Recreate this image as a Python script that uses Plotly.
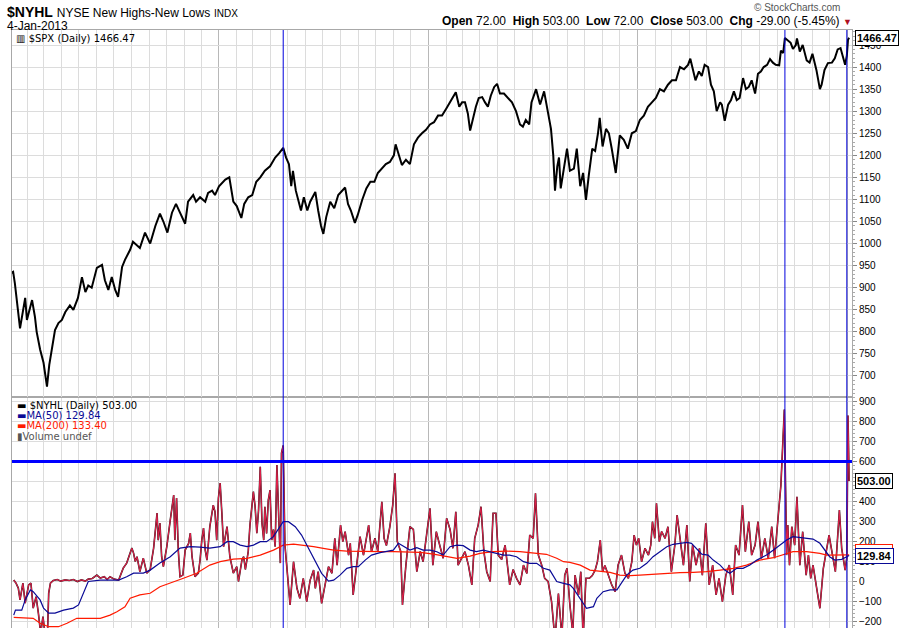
import plotly.graph_objects as go

# S&P 500 close, upper panel
spx_dates = [
    "2009-01-02", "2009-01-07", "2009-01-10", "2009-01-16", "2009-01-19", "2009-01-28", "2009-01-31",
    "2009-02-09", "2009-02-14", "2009-02-17", "2009-02-23", "2009-03-01", "2009-03-07", "2009-03-11",
    "2009-03-16", "2009-03-21", "2009-03-27", "2009-04-02", "2009-04-08", "2009-04-16", "2009-04-22",
    "2009-04-30", "2009-05-07", "2009-05-13", "2009-05-18", "2009-05-24", "2009-06-02", "2009-06-11",
    "2009-06-16", "2009-06-22", "2009-06-28", "2009-07-04", "2009-07-09", "2009-07-16", "2009-07-21",
    "2009-07-30", "2009-08-04", "2009-08-16", "2009-08-25", "2009-09-03", "2009-09-12", "2009-09-20",
    "2009-09-26", "2009-10-03", "2009-10-11", "2009-10-18", "2009-10-25", "2009-11-03", "2009-11-08",
    "2009-11-17", "2009-11-22", "2009-11-29", "2009-12-08", "2009-12-13", "2009-12-20", "2009-12-25",
    "2010-01-01", "2010-01-12", "2010-01-19", "2010-01-26", "2010-02-01", "2010-02-09", "2010-02-14",
    "2010-02-21", "2010-02-28", "2010-03-07", "2010-03-14", "2010-03-22", "2010-03-31", "2010-04-09",
    "2010-04-16", "2010-04-23", "2010-04-28", "2010-05-03", "2010-05-07", "2010-05-10", "2010-05-15",
    "2010-05-21", "2010-05-24", "2010-05-29", "2010-06-04", "2010-06-09", "2010-06-18", "2010-06-23",
    "2010-06-28", "2010-07-02", "2010-07-07", "2010-07-14", "2010-07-21", "2010-07-28", "2010-08-04",
    "2010-08-09", "2010-08-14", "2010-08-19", "2010-08-26", "2010-08-31", "2010-09-08", "2010-09-15",
    "2010-09-22", "2010-09-29", "2010-10-05", "2010-10-12", "2010-10-19", "2010-10-26", "2010-11-02",
    "2010-11-05", "2010-11-11", "2010-11-16", "2010-11-23", "2010-11-30", "2010-12-07", "2010-12-14",
    "2010-12-21", "2010-12-28", "2011-01-04", "2011-01-11", "2011-01-18", "2011-01-25", "2011-02-01",
    "2011-02-08", "2011-02-13", "2011-02-18", "2011-02-24", "2011-03-01", "2011-03-06", "2011-03-11",
    "2011-03-15", "2011-03-20", "2011-03-25", "2011-03-30", "2011-04-05", "2011-04-10", "2011-04-15",
    "2011-04-20", "2011-04-26", "2011-05-01", "2011-05-06", "2011-05-13", "2011-05-20", "2011-05-27",
    "2011-06-03", "2011-06-10", "2011-06-15", "2011-06-20", "2011-06-26", "2011-06-30", "2011-07-08",
    "2011-07-15", "2011-07-22", "2011-07-29", "2011-08-03", "2011-08-07", "2011-08-10", "2011-08-14",
    "2011-08-17", "2011-08-20", "2011-08-26", "2011-08-31", "2011-09-05", "2011-09-12", "2011-09-17",
    "2011-09-23", "2011-09-28", "2011-10-03", "2011-10-08", "2011-10-14", "2011-10-19", "2011-10-24",
    "2011-10-27", "2011-11-01", "2011-11-07", "2011-11-12", "2011-11-17", "2011-11-24", "2011-12-01",
    "2011-12-08", "2011-12-15", "2011-12-22", "2011-12-29", "2012-01-05", "2012-01-12", "2012-01-19",
    "2012-01-26", "2012-02-02", "2012-02-09", "2012-02-16", "2012-02-23", "2012-03-01", "2012-03-08",
    "2012-03-15", "2012-03-22", "2012-03-29", "2012-04-02", "2012-04-07", "2012-04-11", "2012-04-17",
    "2012-04-22", "2012-04-27", "2012-05-03", "2012-05-08", "2012-05-13", "2012-05-18", "2012-05-24",
    "2012-05-27", "2012-06-01", "2012-06-07", "2012-06-12", "2012-06-17", "2012-06-22", "2012-06-27",
    "2012-07-03", "2012-07-08", "2012-07-13", "2012-07-18", "2012-07-24", "2012-07-29", "2012-08-03",
    "2012-08-08", "2012-08-14", "2012-08-19", "2012-08-24", "2012-08-29", "2012-09-04", "2012-09-07",
    "2012-09-11", "2012-09-14", "2012-09-19", "2012-09-24", "2012-09-28", "2012-10-03", "2012-10-05",
    "2012-10-10", "2012-10-15", "2012-10-22", "2012-10-27", "2012-11-01", "2012-11-08", "2012-11-14",
    "2012-11-17", "2012-11-22", "2012-11-28", "2012-12-05", "2012-12-10", "2012-12-15", "2012-12-20",
    "2012-12-24", "2012-12-28", "2012-12-31", "2013-01-02", "2013-01-04",
]
spx_close = [
    932, 936, 910, 850, 808, 877, 827,
    872, 834, 800, 760, 730, 676, 725,
    765, 804, 820, 827, 845, 860, 850,
    877, 924, 890, 905, 900, 945, 952,
    917, 895, 924, 895, 879, 947, 963,
    986, 1004, 990, 1025, 1000, 1040, 1068,
    1050, 1025, 1070, 1090, 1070, 1045, 1095,
    1110, 1095, 1105, 1095, 1115, 1120, 1110,
    1130, 1145, 1150, 1095, 1085, 1058, 1090,
    1105, 1110, 1140, 1150, 1165, 1175, 1195,
    1205, 1217, 1195, 1180, 1130, 1165, 1120,
    1090, 1075, 1105, 1075, 1095, 1117, 1075,
    1040, 1022, 1060, 1095, 1080, 1110, 1120,
    1127, 1090, 1075, 1047, 1065, 1100, 1125,
    1140, 1140, 1160, 1170, 1180, 1185, 1200,
    1225, 1200, 1178, 1190, 1180, 1225, 1240,
    1250, 1258, 1270, 1275, 1290, 1290, 1305,
    1320, 1330, 1343, 1310, 1320, 1320, 1295,
    1256, 1285, 1310, 1330, 1332, 1320, 1310,
    1335, 1355, 1362, 1340, 1340, 1330, 1320,
    1300, 1270, 1265, 1280, 1270, 1320, 1350,
    1315, 1345, 1290, 1260, 1200, 1120, 1175,
    1195, 1125, 1170, 1215, 1165, 1170, 1215,
    1130, 1160, 1099, 1155, 1215, 1210, 1250,
    1285, 1220, 1260, 1250, 1215, 1160, 1245,
    1235, 1215, 1250, 1255, 1280, 1290, 1310,
    1320, 1330, 1350, 1345, 1360, 1370, 1370,
    1400, 1395, 1405, 1419, 1395, 1370, 1390,
    1380, 1405, 1400, 1360, 1345, 1300, 1320,
    1315, 1278, 1315, 1325, 1345, 1325, 1330,
    1375, 1350, 1355, 1370, 1340, 1385, 1390,
    1400, 1405, 1418, 1410, 1405, 1404, 1437,
    1432, 1466, 1460, 1455, 1441, 1450, 1465,
    1435, 1450, 1415, 1410, 1430, 1393, 1350,
    1360, 1393, 1409, 1410, 1420, 1440, 1443,
    1425, 1405, 1426, 1462, 1466.47,
]

# NYSE new highs minus new lows, lower panel
nyhl_dates = [
    "2009-01-08", "2009-01-12", "2009-01-16", "2009-01-19", "2009-01-24", "2009-01-28", "2009-02-03",
    "2009-02-07", "2009-02-11", "2009-02-16", "2009-02-20", "2009-02-24", "2009-02-28", "2009-03-04",
    "2009-03-08", "2009-03-10", "2009-03-13", "2009-03-18", "2009-03-25", "2009-03-31", "2009-04-08",
    "2009-04-15", "2009-04-22", "2009-04-29", "2009-05-06", "2009-05-13", "2009-05-18", "2009-05-25",
    "2009-06-02", "2009-06-08", "2009-06-15", "2009-06-20", "2009-06-25", "2009-07-02", "2009-07-10",
    "2009-07-18", "2009-07-24", "2009-08-02", "2009-08-05", "2009-08-08", "2009-08-11", "2009-08-16",
    "2009-08-22", "2009-08-28", "2009-09-03", "2009-09-09", "2009-09-15", "2009-09-17", "2009-09-20",
    "2009-09-23", "2009-09-26", "2009-10-02", "2009-10-08", "2009-10-11", "2009-10-14", "2009-10-16",
    "2009-10-19", "2009-10-22", "2009-10-25", "2009-10-30", "2009-11-03", "2009-11-09", "2009-11-12",
    "2009-11-15", "2009-11-20", "2009-11-26", "2009-11-29", "2009-12-02", "2009-12-05", "2009-12-08",
    "2009-12-11", "2009-12-16", "2009-12-22", "2009-12-25", "2009-12-28", "2009-12-31", "2010-01-03",
    "2010-01-06", "2010-01-09", "2010-01-15", "2010-01-17", "2010-01-20", "2010-01-26", "2010-02-01",
    "2010-02-04", "2010-02-10", "2010-02-13", "2010-02-16", "2010-02-21", "2010-02-24", "2010-03-02",
    "2010-03-05", "2010-03-08", "2010-03-11", "2010-03-14", "2010-03-17", "2010-03-20", "2010-03-22",
    "2010-03-25", "2010-03-28", "2010-03-31", "2010-04-03", "2010-04-06", "2010-04-09", "2010-04-12",
    "2010-04-15", "2010-04-18", "2010-04-20", "2010-04-23", "2010-04-26", "2010-04-29", "2010-05-05",
    "2010-05-11", "2010-05-17", "2010-05-22", "2010-05-28", "2010-06-03", "2010-06-09", "2010-06-15",
    "2010-06-18", "2010-06-23", "2010-06-29", "2010-07-05", "2010-07-11", "2010-07-17", "2010-07-22",
    "2010-07-26", "2010-08-01", "2010-08-05", "2010-08-09", "2010-08-15", "2010-08-18", "2010-08-23",
    "2010-08-29", "2010-09-04", "2010-09-10", "2010-09-19", "2010-09-24", "2010-09-30", "2010-10-05",
    "2010-10-12", "2010-10-16", "2010-10-20", "2010-10-26", "2010-10-31", "2010-11-04", "2010-11-08",
    "2010-11-14", "2010-11-17", "2010-11-23", "2010-11-30", "2010-12-06", "2010-12-12", "2010-12-18",
    "2010-12-23", "2010-12-29", "2011-01-04", "2011-01-09", "2011-01-15", "2011-01-22", "2011-01-27",
    "2011-02-02", "2011-02-08", "2011-02-13", "2011-02-18", "2011-02-22", "2011-02-28", "2011-03-06",
    "2011-03-12", "2011-03-18", "2011-03-23", "2011-03-29", "2011-04-03", "2011-04-08", "2011-04-13",
    "2011-04-19", "2011-04-24", "2011-04-29", "2011-05-03", "2011-05-09", "2011-05-15", "2011-05-23",
    "2011-05-29", "2011-06-04", "2011-06-10", "2011-06-16", "2011-06-22", "2011-06-27", "2011-07-03",
    "2011-07-07", "2011-07-12", "2011-07-18", "2011-07-23", "2011-07-29", "2011-08-04", "2011-08-10",
    "2011-08-16", "2011-08-22", "2011-08-27", "2011-08-31", "2011-09-05", "2011-09-10", "2011-09-14",
    "2011-09-20", "2011-09-24", "2011-09-28", "2011-10-03", "2011-10-09", "2011-10-14", "2011-10-19",
    "2011-10-23", "2011-10-28", "2011-11-01", "2011-11-05", "2011-11-11", "2011-11-17", "2011-11-23",
    "2011-11-28", "2011-12-04", "2011-12-10", "2011-12-16", "2011-12-22", "2011-12-26", "2011-12-30",
    "2012-01-03", "2012-01-08", "2012-01-14", "2012-01-20", "2012-01-24", "2012-01-27", "2012-01-31",
    "2012-02-03", "2012-02-08", "2012-02-12", "2012-02-18", "2012-02-23", "2012-02-29", "2012-03-06",
    "2012-03-10", "2012-03-15", "2012-03-21", "2012-03-27", "2012-04-01", "2012-04-06", "2012-04-12",
    "2012-04-18", "2012-04-23", "2012-04-29", "2012-05-05", "2012-05-11", "2012-05-17", "2012-05-22",
    "2012-05-28", "2012-06-03", "2012-06-09", "2012-06-15", "2012-06-20", "2012-06-26", "2012-07-02",
    "2012-07-07", "2012-07-13", "2012-07-18", "2012-07-24", "2012-07-29", "2012-08-04", "2012-08-10",
    "2012-08-16", "2012-08-22", "2012-08-27", "2012-09-02", "2012-09-07", "2012-09-13", "2012-09-17",
    "2012-09-19", "2012-09-22", "2012-09-26", "2012-10-01", "2012-10-05", "2012-10-10", "2012-10-15",
    "2012-10-21", "2012-10-25", "2012-10-29", "2012-11-02", "2012-11-08", "2012-11-14", "2012-11-20",
    "2012-11-26", "2012-11-30", "2012-12-06", "2012-12-11", "2012-12-18", "2012-12-22", "2012-12-28",
    "2012-12-31", "2013-01-02", "2013-01-03", "2013-01-04",
]
nyhl_values = [
    7, -8, -33, -92, -8, -108, -17,
    -8, -133, -76, -158, -260, -176, -270,
    -250, -58, -8, 5, 10, 2, 8,
    5, 10, 0, 8, 2, 12, 15,
    32, 17, 24, 10, 24, 12, 7,
    67, 92, 167, 142, 100, 124, 49,
    117, 42, 60, 167, 342, 207, 292,
    124, 74, 174, 307, 374, 432, 207,
    417, 157, 24, 32, 157, 190, 242,
    124, 24, 42, 107, 207, 267, 157,
    107, 274, 382, 349, 207, 417, 492,
    342, 174, 274, 207, 124, 42, 74,
    0, 107, 124, 60, 149, 282, 449,
    374, 242, 357, 574, 292, 207, 374,
    240, 407, 457, 207, 260, 174, 582,
    307, 92, 642, 680, 182, 66, -117,
    99, -34, -84, 16, -101, 7, 57,
    -34, 49, -109, -17, 74, 41, 216,
    82, 282, 199, 249, 132, 191, -67,
    82, 224, 132, 282, 149, 216, 150,
    399, 216, 180, 274, 382, 541, 199,
    150, -117, 82, 274, 260, 49, 150,
    99, 232, 366, 82, 249, 170, 116,
    316, 260, 166, 349, 82, 120, 149,
    82, -17, 216, 282, 374, 149, 49,
    0, 341, 341, 132, 110, 182, -17,
    60, 16, -17, 82, 40, 232, 216,
    441, 132, 80, 16, 0, -101, -290,
    -60, -280, 32, 66, -117, -260, 32,
    -67, 49, -280, 16, 16, 30, 57,
    99, 207, 49, 80, 32, -17, -51,
    82, 132, 41, 16, 99, 232, 182,
    216, 99, 166, 132, 182, 299, 216,
    391, 199, 250, 216, 274, 49, 182,
    332, 216, 82, 282, 0, 182, 82,
    166, 32, 291, -17, 82, -67, 16,
    -101, 32, 82, -67, 182, 132, 382,
    149, 299, 132, 182, 299, 116, 216,
    116, 274, 116, 316, 482, 860, 132,
    282, 82, 274, 182, 424, 82, 249,
    32, 132, 16, 82, -17, -134, 66,
    166, 232, 132, 49, 357, 166, 57,
    120, 830, 532, 503,
]

# 50-day moving average of $NYHL
ma50_dates = [
    "2009-01-08", "2009-01-11", "2009-01-22", "2009-01-28", "2009-02-06", "2009-02-11", "2009-02-23",
    "2009-03-01", "2009-03-10", "2009-03-21", "2009-04-05", "2009-04-22", "2009-05-01", "2009-05-07",
    "2009-05-13", "2009-05-18", "2009-06-08", "2009-06-25", "2009-07-10", "2009-07-24", "2009-08-05",
    "2009-08-22", "2009-09-03", "2009-09-20", "2009-10-08", "2009-10-25", "2009-11-12", "2009-11-29",
    "2009-12-16", "2010-01-03", "2010-01-15", "2010-01-26", "2010-02-07", "2010-02-19", "2010-03-02",
    "2010-03-14", "2010-03-25", "2010-04-06", "2010-04-18", "2010-04-23", "2010-05-02", "2010-05-14",
    "2010-05-25", "2010-06-06", "2010-06-18", "2010-06-29", "2010-07-11", "2010-07-20", "2010-07-31",
    "2010-08-12", "2010-08-23", "2010-09-01", "2010-09-13", "2010-09-24", "2010-10-09", "2010-10-20",
    "2010-11-01", "2010-11-10", "2010-11-19", "2010-11-30", "2010-12-12", "2010-12-23", "2011-01-04",
    "2011-01-16", "2011-01-27", "2011-02-08", "2011-02-20", "2011-03-03", "2011-03-15", "2011-03-26",
    "2011-04-07", "2011-04-19", "2011-04-30", "2011-05-12", "2011-05-23", "2011-06-04", "2011-06-16",
    "2011-06-27", "2011-07-09", "2011-07-21", "2011-08-01", "2011-08-13", "2011-08-25", "2011-09-05",
    "2011-09-11", "2011-09-23", "2011-10-04", "2011-10-16", "2011-10-22", "2011-11-02", "2011-11-14",
    "2011-11-26", "2011-12-04", "2011-12-13", "2011-12-24", "2012-01-05", "2012-01-17", "2012-01-28",
    "2012-02-09", "2012-02-21", "2012-03-03", "2012-03-15", "2012-03-27", "2012-04-04", "2012-04-13",
    "2012-04-22", "2012-05-03", "2012-05-12", "2012-05-24", "2012-06-01", "2012-06-10", "2012-06-22",
    "2012-07-03", "2012-07-15", "2012-07-27", "2012-08-13", "2012-08-25", "2012-09-05", "2012-09-17",
    "2012-09-28", "2012-10-10", "2012-10-22", "2012-11-02", "2012-11-14", "2012-11-23", "2012-12-01",
    "2012-12-10", "2012-12-22", "2013-01-04",
]
ma50_values = [
    -168, -143, -143, -92, -42, -51, -92,
    -133, -158, -158, -143, -133, -117, -76,
    -42, 0, 7, 7, 7, 24, 42,
    42, 57, 92, 124, 167, 174, 172,
    167, 174, 199, 199, 182, 174, 182,
    199, 199, 224, 274, 299, 299, 274,
    232, 166, 107, 41, 2, 7, 32,
    66, 74, 74, 107, 132, 144, 149,
    157, 191, 174, 157, 169, 157, 157,
    149, 132, 174, 182, 179, 157, 149,
    157, 149, 141, 132, 132, 124, 99,
    91, 91, 66, 57, 0, -9, -17,
    -34, -84, -134, -126, -84, -51, -42,
    -42, -9, 32, 57, 66, 91, 124,
    149, 174, 186, 191, 196, 191, 166,
    137, 132, 107, 82, 57, 41, 66,
    66, 82, 107, 132, 157, 182, 207,
    224, 219, 216, 212, 191, 157, 124,
    107, 111, 129.84,
]

# 200-day moving average of $NYHL
ma200_dates = [
    "2009-01-08", "2009-02-11", "2009-02-23", "2009-03-10", "2009-03-27", "2009-04-11", "2009-04-28",
    "2009-05-16", "2009-06-08", "2009-06-25", "2009-07-07", "2009-07-21", "2009-07-30", "2009-08-16",
    "2009-09-03", "2009-09-20", "2009-10-08", "2009-10-31", "2009-11-23", "2009-12-16", "2010-01-03",
    "2010-01-26", "2010-02-19", "2010-03-14", "2010-04-06", "2010-04-23", "2010-05-11", "2010-05-28",
    "2010-06-15", "2010-07-02", "2010-07-20", "2010-08-12", "2010-09-10", "2010-10-09", "2010-11-01",
    "2010-11-24", "2010-12-18", "2011-01-10", "2011-02-02", "2011-02-20", "2011-03-15", "2011-04-01",
    "2011-04-24", "2011-05-18", "2011-06-10", "2011-07-03", "2011-07-26", "2011-08-13", "2011-08-25",
    "2011-09-05", "2011-09-23", "2011-10-10", "2011-10-28", "2011-11-14", "2011-12-01", "2011-12-19",
    "2012-01-05", "2012-01-28", "2012-02-21", "2012-03-15", "2012-04-07", "2012-04-30", "2012-05-24",
    "2012-06-16", "2012-07-09", "2012-08-01", "2012-08-25", "2012-09-11", "2012-09-28", "2012-10-22",
    "2012-11-14", "2012-11-26", "2012-12-19", "2013-01-04",
]
ma200_values = [
    -179, -184, -209, -226, -226, -209, -184,
    -184, -184, -168, -151, -126, -84, -67,
    -59, -26, -9, 16, 41, 82, 99,
    112, 116, 132, 157, 182, 187, 182,
    174, 166, 157, 152, 149, 149, 149,
    149, 146, 137, 124, 116, 127, 141,
    149, 152, 149, 141, 136, 116, 99,
    96, 82, 57, 52, 46, 32, 29,
    32, 37, 41, 44, 46, 49, 57,
    66, 82, 107, 119, 136, 149, 149,
    141, 132, 132, 133.40,
]

# lines drawn by hand on the chart
marker_dates = ["2010-04-23", "2012-09-14", "2012-12-31"]
alert_level = 600

x_range = ["2009-01-05", "2013-01-09"]
spx_range = [652.4, 1484]
nyhl_range = [-232.5, 922.5]

fig = go.Figure()

fig.add_trace(go.Scatter(x=spx_dates, y=spx_close, xaxis="x2", yaxis="y2",
                         mode="lines", line=dict(color="black", width=2)))
fig.add_trace(go.Scatter(x=nyhl_dates, y=nyhl_values, mode="lines",
                         line=dict(color="#1a1a1a", width=1.6)))
fig.add_trace(go.Scatter(x=nyhl_dates, y=nyhl_values, mode="lines",
                         line=dict(color="#dc1f48", width=1.1)))
fig.add_trace(go.Scatter(x=ma200_dates, y=ma200_values, mode="lines",
                         line=dict(color="#ff1a00", width=1.2)))
fig.add_trace(go.Scatter(x=ma50_dates, y=ma50_values, mode="lines",
                         line=dict(color="#0a0a96", width=1.2)))

grid_light = "#dcdcdc"
frame = "#a8a8a8"
tick_font = dict(family="Liberation Sans, Arial", size=10, color="black")

x_common = dict(type="date", range=x_range, tick0="2009-01-01", dtick="M12", automargin=False,
                showticklabels=False, showgrid=True, gridcolor="#b8b8b8",
                minor=dict(dtick="M1", tick0="2009-01-01", showgrid=True, gridcolor=grid_light),
                showline=True, mirror=True, linecolor=frame, zeroline=False, ticks="")

fig.update_layout(
    width=901, height=628,
    margin=dict(l=12, r=49, t=30, b=0, autoexpand=False),
    paper_bgcolor="white", plot_bgcolor="white",
    showlegend=False, hovermode=False,
    xaxis=dict(anchor="y", domain=[0, 1], **x_common),
    xaxis2=dict(anchor="y2", domain=[0, 1], matches="x", **x_common),
    yaxis=dict(domain=[0, 0.3863], range=nyhl_range, side="right", anchor="x", automargin=False,
               tick0=0, dtick=100, gridcolor=grid_light, zeroline=False,
               showline=True, mirror=True, linecolor=frame,
               ticks="outside", ticklen=4, tickcolor="#888", tickfont=tick_font,
               minor=dict(dtick=20, ticks="outside", ticklen=2, tickcolor="#aaa", showgrid=False)),
    yaxis2=dict(domain=[0.3863, 1], range=spx_range, side="right", anchor="x2", automargin=False,
                tick0=0, dtick=50, gridcolor=grid_light, zeroline=False,
                showline=True, mirror=True, linecolor=frame,
                ticks="outside", ticklen=4, tickcolor="#888", tickfont=tick_font,
                minor=dict(dtick=10, ticks="outside", ticklen=2, tickcolor="#aaa", showgrid=False)),
)

# blue trend lines
for d in marker_dates:
    fig.add_shape(type="line", xref="x", x0=d, x1=d, yref="paper", y0=0, y1=1,
                  line=dict(color="#0000dd", width=1))
fig.add_shape(type="line", xref="paper", x0=0, x1=1, yref="y", y0=alert_level, y1=alert_level,
              line=dict(color="#0000ff", width=3))

arial = "Liberation Sans, Arial"
verdana = "DejaVu Sans, Verdana"

# header
fig.add_annotation(xref="paper", yref="paper", x=-0.0085, y=1.0301, xanchor="left", yanchor="middle",
                   showarrow=False, font=dict(family=arial, size=14, color="black"),
                   text="<b>$NYHL</b> <span style='font-size:12px'>NYSE New Highs-New Lows</span>"
                        " <span style='font-size:10px'>INDX</span>")
fig.add_annotation(xref="paper", yref="paper", x=-0.0085, y=1.0067, xanchor="left", yanchor="middle",
                   showarrow=False, font=dict(family=arial, size=12, color="black"), text="4-Jan-2013")
fig.add_annotation(xref="paper", yref="paper", x=0.988, y=1.0368, xanchor="right", yanchor="middle",
                   showarrow=False, font=dict(family=arial, size=10, color="#555"),
                   text="© StockCharts.com")
fig.add_annotation(xref="paper", yref="paper", x=1.002, y=1.015, xanchor="right", yanchor="middle",
                   showarrow=False, font=dict(family=arial, size=12, color="black"),
                   text="<b>Open</b> 72.00  <b>High</b> 503.00  <b>Low</b> 72.00  <b>Close</b> 503.00  "
                        "<b>Chg</b> -29.00 (-5.45%) <span style='color:#b01020;font-size:9px'>▼</span>")

# panel labels
fig.add_annotation(xref="paper", yref="paper", x=0.002, y=0.9866, xanchor="left", yanchor="middle",
                   showarrow=False, font=dict(family=verdana, size=10, color="black"),
                   text="<b>▥</b> $SPX (Daily) 1466.47")
legend_rows = [
    ("<span style='color:black'>▬</span> $NYHL (Daily) 503.00", "black", 0.3729),
    ("▬MA(50) 129.84", "#0a0a96", 0.3554),
    ("▬MA(200) 133.40", "#ff1a00", 0.3378),
    ("▮Volume undef", "#555555", 0.3202),
]
for text, color, yp in legend_rows:
    fig.add_annotation(xref="paper", yref="paper", x=0.003, y=yp, xanchor="left", yanchor="middle",
                       showarrow=False, font=dict(family=verdana, size=10, color=color), text=text)

# last-value tags on the right axis
tags = [
    ("y2", 1466.47, "1466.47", "black", 0),
    ("y", 503.00, "503.00", "black", 0),
    ("y", 133.40, "133.40", "#ff1a00", 3),
    ("y", 129.84, "129.84", "#0a0a96", 0),
]
for yref, val, text, color, shift in tags:
    fig.add_annotation(xref="paper", yref=yref, x=1, y=val, xanchor="left", yanchor="middle",
                       xshift=3, yshift=shift, showarrow=False, bgcolor="white",
                       bordercolor=color, borderwidth=1, borderpad=1,
                       font=dict(family=arial, size=11, color="black"), text=f"<b>{text}</b>")

# drop the browser's default page margin so the figure fills the window
fig.write_html("out.html", config={"displayModeBar": False},
               post_script="document.body.style.margin = '0';")
